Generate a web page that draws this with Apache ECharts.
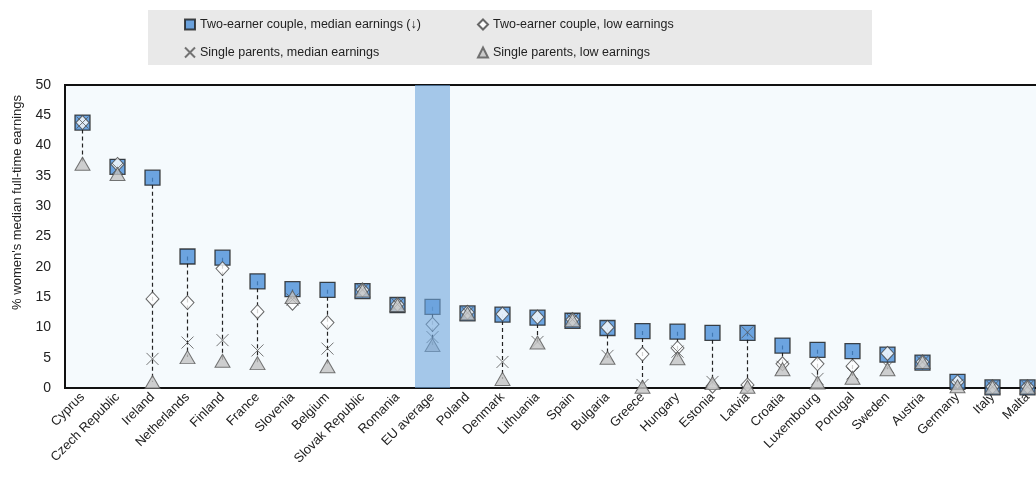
<!DOCTYPE html>
<html>
<head>
<meta charset="utf-8">
<script src="https://cdn.jsdelivr.net/npm/echarts@6/dist/echarts.min.js"></script>
<style>
html,body{margin:0;padding:0;background:#fff;}
#chart{width:1036px;height:482px;}
</style>
</head>
<body>
<div id="chart"></div>
<script>
const categories = ["Cyprus","Czech Republic","Ireland","Netherlands","Finland","France","Slovenia","Belgium","Slovak Republic","Romania","EU average","Poland","Denmark","Lithuania","Spain","Bulgaria","Greece","Hungary","Estonia","Latvia","Croatia","Luxembourg","Portugal","Sweden","Austria","Germany","Italy","Malta"];
const coupleMedian = [43.8,36.5,34.7,21.7,21.5,17.6,16.3,16.2,16.0,13.7,13.4,12.3,12.1,11.6,11.1,9.9,9.4,9.3,9.1,9.1,7.0,6.3,6.1,5.5,4.2,1.0,0.1,0.1];
const coupleLow = [43.8,36.9,14.7,14.1,19.7,12.6,14.0,10.8,16.2,13.8,10.5,12.5,12.2,11.7,11.3,10.0,5.6,6.6,0.3,0.5,4.0,4.0,3.6,5.7,4.3,1.0,0.2,0.2];
const singleMedian = [43.8,36.2,4.8,7.5,7.9,6.2,14.6,6.5,16.2,13.8,8.4,12.4,4.3,7.6,11.3,5.3,0.5,6.0,1.0,9.2,3.5,1.5,2.4,3.5,4.3,0.5,0.2,0.2];
const singleLow = [37.0,35.3,1.0,5.1,4.5,4.1,15.0,3.6,16.1,13.7,7.1,12.3,1.5,7.5,11.2,5.0,0.2,4.9,0.8,0.2,3.1,0.9,1.7,3.1,4.3,0.3,0.1,0.1];
const yTicks = {min:0, max:50, interval:5};
const highlighted = "EU average";
const seriesNames = ["Two-earner couple, median earnings (\u2193)","Two-earner couple, low earnings","Single parents, median earnings","Single parents, low earnings"];

const FONT = "'Liberation Sans',Arial,sans-serif";
const XPATH = 'path://M0,0L10,10M10,0L0,10';

const rangeData = categories.map((c,i)=>{
  const vals=[coupleMedian[i],coupleLow[i],singleMedian[i],singleLow[i]];
  return [i, Math.min(...vals), Math.max(...vals)];
});
const bandData = categories.map(c => c===highlighted ? yTicks.max : '-');

const chart = echarts.init(document.getElementById('chart'), null, {renderer:'canvas'});
chart.setOption({
  animation:false,
  textStyle:{fontFamily:FONT},
  graphic:[
    {type:'rect', left:148, top:10, shape:{width:724,height:55}, style:{fill:'#e9e9e9'}, z:-1},
    {type:'text', left:11, top:95, rotation:Math.PI/2, style:{text:"% women's median full-time earnings", font:"13px "+FONT, fill:'#222'}}
  ],
  legend:[
    {orient:'vertical', left:179, top:13, itemGap:15, itemWidth:10, itemHeight:10, textStyle:{fontSize:12.5,color:'#222',fontFamily:FONT},
     data:[{name:seriesNames[0]},{name:seriesNames[2]}]},
    {orient:'vertical', left:472, top:13, itemGap:15, itemWidth:10, itemHeight:10, textStyle:{fontSize:12.5,color:'#222',fontFamily:FONT},
     data:[{name:seriesNames[1]},{name:seriesNames[3]}]}
  ],
  grid:{left:65, top:85, width:980, height:303, outerBoundsMode:'none', show:true, backgroundColor:'#f5fafd', borderColor:'#111', borderWidth:2, containLabel:false},
  xAxis:{type:'category', data:categories, boundaryGap:true,
    axisLine:{lineStyle:{color:'#111',width:2}},
    axisTick:{inside:true, length:4, lineStyle:{color:'#111',width:2}},
    axisLabel:{interval:0, rotate:45, color:'#222', fontSize:13, margin:7, fontFamily:FONT}},
  yAxis:{type:'value', min:yTicks.min, max:yTicks.max, interval:yTicks.interval,
    splitLine:{show:false}, axisLine:{show:false}, axisTick:{show:false},
    axisLabel:{color:'#222', fontSize:14, margin:14, fontFamily:FONT}},
  series:[
    {type:'custom', name:'range', silent:true, z:2, data:rangeData,
     renderItem:(params,api)=>{
       const p1=api.coord([api.value(0),api.value(2)]);
       const p2=api.coord([api.value(0),api.value(1)]);
       return {type:'line', shape:{x1:p1[0],y1:p1[1],x2:p2[0],y2:p2[1]}, style:{stroke:'#222',lineWidth:1.2,lineDash:[4,3]}};
     }},
    {type:'scatter', name:seriesNames[0], data:coupleMedian, z:3, symbol:'rect', symbolSize:15,
     itemStyle:{color:'#4a8fd8', borderColor:'#1c1c1c', borderWidth:1.3}},
    {type:'scatter', name:seriesNames[1], data:coupleLow, z:4, symbol:'diamond', symbolSize:[13,14],
     itemStyle:{color:'#ffffff', borderColor:'#444', borderWidth:1}},
    {type:'scatter', name:seriesNames[2], data:singleMedian, z:5, symbol:XPATH, symbolSize:12,
     itemStyle:{color:'rgba(0,0,0,0)', borderColor:'#555', borderWidth:1}},
    {type:'scatter', name:seriesNames[3], data:singleLow, z:6, symbol:'triangle', symbolSize:[15,13],
     itemStyle:{color:'#c3c3c3', borderColor:'#555', borderWidth:1}},
    {type:'bar', name:'band', data:bandData, barWidth:'100%', silent:true, z:10,
     itemStyle:{color:'rgba(110,165,220,0.6)'}}
  ]
});
</script>
</body>
</html>
